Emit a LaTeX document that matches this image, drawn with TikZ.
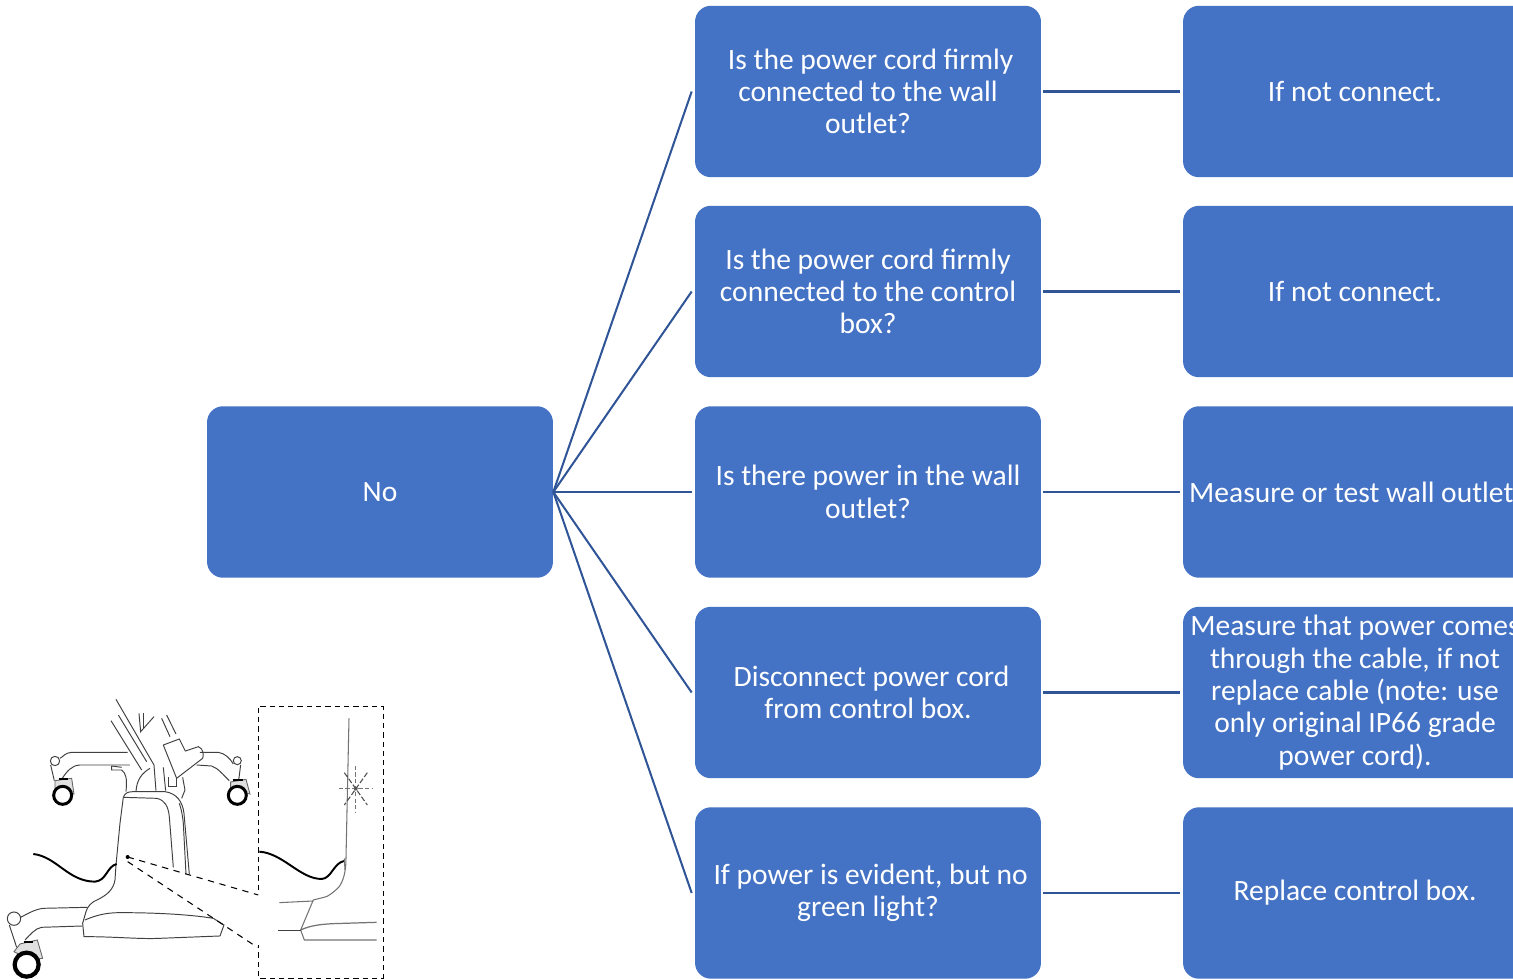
\documentclass[tikz,border=0pt]{standalone}
\usepackage{fontspec}
\setmainfont{Carlito}
\definecolor{boxblue}{HTML}{4472C4}
\definecolor{lineblue}{HTML}{2F5597}

\begin{document}
\begin{tikzpicture}[x=0.02cm,y=-0.02cm,
                box/.style={fill=boxblue, draw=none, rounded corners=0.32cm, minimum width=6.92cm, minimum height=3.43cm,
                  text=white, align=center, inner sep=0pt, font=\fontsize{16.8}{18.4}\selectfont},
                link/.style={draw=lineblue, line width=1.15pt},
                sketch/.style={line width=0.55pt, draw=black!75},
                sketchgray/.style={line width=0.6pt, draw=black!55},
                wheel/.style={line width=1.7pt, draw=black, fill=white},
                fork/.style={line width=0.5pt, draw=black!60, fill=black!12},
                cutline/.style={line width=0.6pt, draw=black, dash pattern=on 3.6pt off 3.2pt},
                framed/.style={line width=0.5pt, draw=black, dash pattern=on 3pt off 2.3pt}]

            \useasboundingbox (0,0) rectangle (1513,979);
            \clip (0,0) rectangle (1513,979);

            \node[box] (No) at (380,492) {No};

            \node[box] (Q1) at (868,91.5) {\hspace{3pt}Is the power cord firmly\\connected to the wall\\outlet?};
            \node[box] (Q2) at (868,291.5) {Is the power cord firmly\\connected to the control\\box?};
            \node[box] (Q3) at (868,492) {Is there power in the wall\\outlet?};
            \node[box] (Q4) at (868,692.5) {\hspace{4pt}Disconnect power cord\\from control box.};
            \node[box] (Q5) at (868,893) {\hspace{3pt}If power is evident, but no\\green light?};

            \node[box, minimum width=6.88cm] (A1) at (1355,91.5) {If not connect.};
            \node[box, minimum width=6.88cm] (A2) at (1355,291.5) {If not connect.};
            \node[box, minimum width=6.88cm] (A3) at (1355,492) {Measure or test wall outlet.};
            \node[box, minimum width=6.88cm] (A4) at (1355,692.5) {Measure that power comes\\through the cable, if not\\replace cable (note: use\\only original IP66 grade\\power cord).};
            \node[box, minimum width=6.88cm] (A5) at (1355,893) {Replace control box.};

            \path[link]
            (No.east) edge ([xshift=-0.06cm]Q1.west)
            (No.east) edge ([xshift=-0.06cm]Q2.west)
            (No.east) edge ([xshift=-0.06cm]Q3.west)
            (No.east) edge ([xshift=-0.06cm]Q4.west)
            (No.east) edge ([xshift=-0.06cm]Q5.west)
            ([xshift=0.04cm]Q1.east) edge ([xshift=-0.06cm]A1.west)
            ([xshift=0.04cm]Q2.east) edge ([xshift=-0.06cm]A2.west)
            ([xshift=0.04cm]Q3.east) edge ([xshift=-0.06cm]A3.west)
            ([xshift=0.04cm]Q4.east) edge ([xshift=-0.06cm]A4.west)
            ([xshift=0.04cm]Q5.east) edge ([xshift=-0.06cm]A5.west);

            % cart
            \begin{scope}[shift={(0,690)},xscale=0.3333,yscale=0.3333]
              \draw[sketch] (383,187) -- (215,187) .. controls (195,188) and (190,200) .. (180,205);
              \draw[sketch] (165,213) circle (14);
              \draw[sketch] (390,225) -- (240,225) .. controls (215,226) and (200,245) .. (187,265);
              \draw[sketch] (152,225) -- (163,272);
              \draw[sketch] (600,187) -- (655,187) .. controls (675,190) and (690,205) .. (700,222);
              \draw[sketch] (712,212) circle (12);
              \draw[sketch] (590,225) -- (635,228) .. controls (655,235) and (670,255) .. (688,272);
              \draw[sketch] (722,225) -- (716,272);
              \draw[fork] (165,272) -- (215,265) -- (222,312) -- (165,300) -- cycle;
              \draw[fork] (692,276) -- (738,268) -- (750,312) -- (692,300) -- cycle;
              \draw[wheel] (188,316) circle (27);
              \draw[wheel] (712,316) circle (27);
              \draw[line width=1.2pt, draw=black] (176,268) -- (205,268);
              \draw[line width=1.2pt, draw=black] (698,270) -- (728,270);

              % column and handle
              \draw[sketch] (348,28) -- (462,225) -- (468,302);
              \draw[sketch] (355,75) -- (440,215);
              \draw[sketch] (333,92) -- (425,240);
              \draw[sketch] (450,235) .. controls (425,250) and (410,270) .. (408,305);
              \draw[sketch] (335,228) -- (335,240) -- (365,240) .. controls (378,250) and (382,265) .. (378,305);
              \draw[sketch] (335,228) -- (365,232);
              \draw[sketch] (417,70) -- (422,125) -- (462,80);
              \draw[sketch] (430,70) -- (430,115);
              \draw[sketch] (485,85) -- (510,140);
              \draw[sketch] (500,75) -- (528,132);
              \draw[sketch] (490,165) -- (538,147) -- (556,183) -- (595,170) .. controls (610,175) and (612,195) .. (608,205) -- (530,265) -- (490,165);
              \draw[sketch] (505,262) -- (505,290) -- (530,290) -- (530,265);
              \draw[sketch] (490,232) -- (497,302);
              \draw[sketch] (548,262) -- (555,300) -- (545,325);

              % body
              \draw[sketch] (370,322) .. controls (375,308) and (385,305) .. (400,305) -- (495,305) .. controls (530,310) and (548,335) .. (552,370) -- (568,552);
              \draw[sketch] (370,322) -- (470,325) .. controls (495,330) and (505,350) .. (508,380) -- (520,532);
              \draw[sketch] (538,340) .. controls (545,360) and (548,380) .. (550,400) -- (558,552);
              \draw[sketch] (370,322) -- (360,400) -- (348,525) -- (345,570) .. controls (340,600) and (320,615) .. (295,628) .. controls (275,635) and (262,650) .. (258,665) -- (248,700) -- (252,740) .. controls (350,740) and (420,748) .. (480,745) -- (660,738) -- (672,705) -- (640,685);
              \draw[sketch] (255,690) .. controls (290,675) and (320,668) .. (360,668) .. controls (450,668) and (560,672) .. (640,685);

              % cable
              \draw[line width=1.1pt, draw=black] (100,492) .. controls (170,500) and (205,575) .. (285,575) .. controls (320,572) and (320,530) .. (350,522);

              % front arm and wheel
              \draw[sketch] (262,652) -- (130,655) .. controls (105,658) and (85,670) .. (62,682);
              \draw[sketch] (42,686) circle (20);
              \draw[sketch] (248,708) -- (125,712) .. controls (105,715) and (90,735) .. (75,750);
              \draw[sketch] (28,705) -- (50,772);
              \draw[fork] (42,785) -- (60,762) -- (112,750) -- (128,805) -- (90,810) -- cycle;
              \draw[wheel, line width=2.4pt] (80,824) circle (36);
              \draw[line width=1.3pt, draw=black] (72,757) -- (100,757);

              \fill[black] (383,501) circle (6);
              \coordinate (spot) at (383,501);
              \coordinate (cutTop) at (775,615);
              \coordinate (cutBottom) at (772,772);
              \draw[cutline] (spot) -- (cutTop);
              \draw[cutline] (383,515) -- (cutBottom);
            \end{scope}

            % detail view
            \draw[framed] (258,890) -- (258,706) -- (383,706) -- (383,978) -- (258,978) -- (258,945);
            \begin{scope}[shift={(250,695)},xscale=0.3333,yscale=0.3333]
              \draw[sketchgray] (297,70) -- (288,490) .. controls (288,530) and (280,560) .. (265,578) .. controls (250,592) and (235,605) .. (222,607) -- (190,615) -- (152,705) -- (163,735) -- (380,735);
              \draw[sketchgray] (88,623) -- (190,618);
              \draw[sketchgray, draw=black!75] (85,706) -- (152,706);
              \draw[sketchgray, line width=0.7pt] (152,705) .. controls (180,692) and (210,688) .. (250,686) -- (380,682);
              \draw[line width=1.1pt, draw=black] (28,470) .. controls (100,475) and (150,552) .. (215,552) .. controls (245,550) and (250,505) .. (282,498);
              \draw[sketchgray] (283,490) -- (285,525);
              \fill[black!65] (317,281) circle (6);
              \draw[sketchgray, dash pattern=on 2.5pt off 1.2pt] (267,281) -- (365,281);
              \draw[sketchgray, dash pattern=on 2.5pt off 1.2pt] (317,213) -- (317,352);
              \draw[sketchgray, draw=black!70, dash pattern=on 3pt off 1.2pt] (283,233) -- (352,330);
              \draw[sketchgray, draw=black!70, dash pattern=on 3pt off 1.2pt] (352,233) -- (283,330);
            \end{scope}

        \end{tikzpicture}
\end{document}
